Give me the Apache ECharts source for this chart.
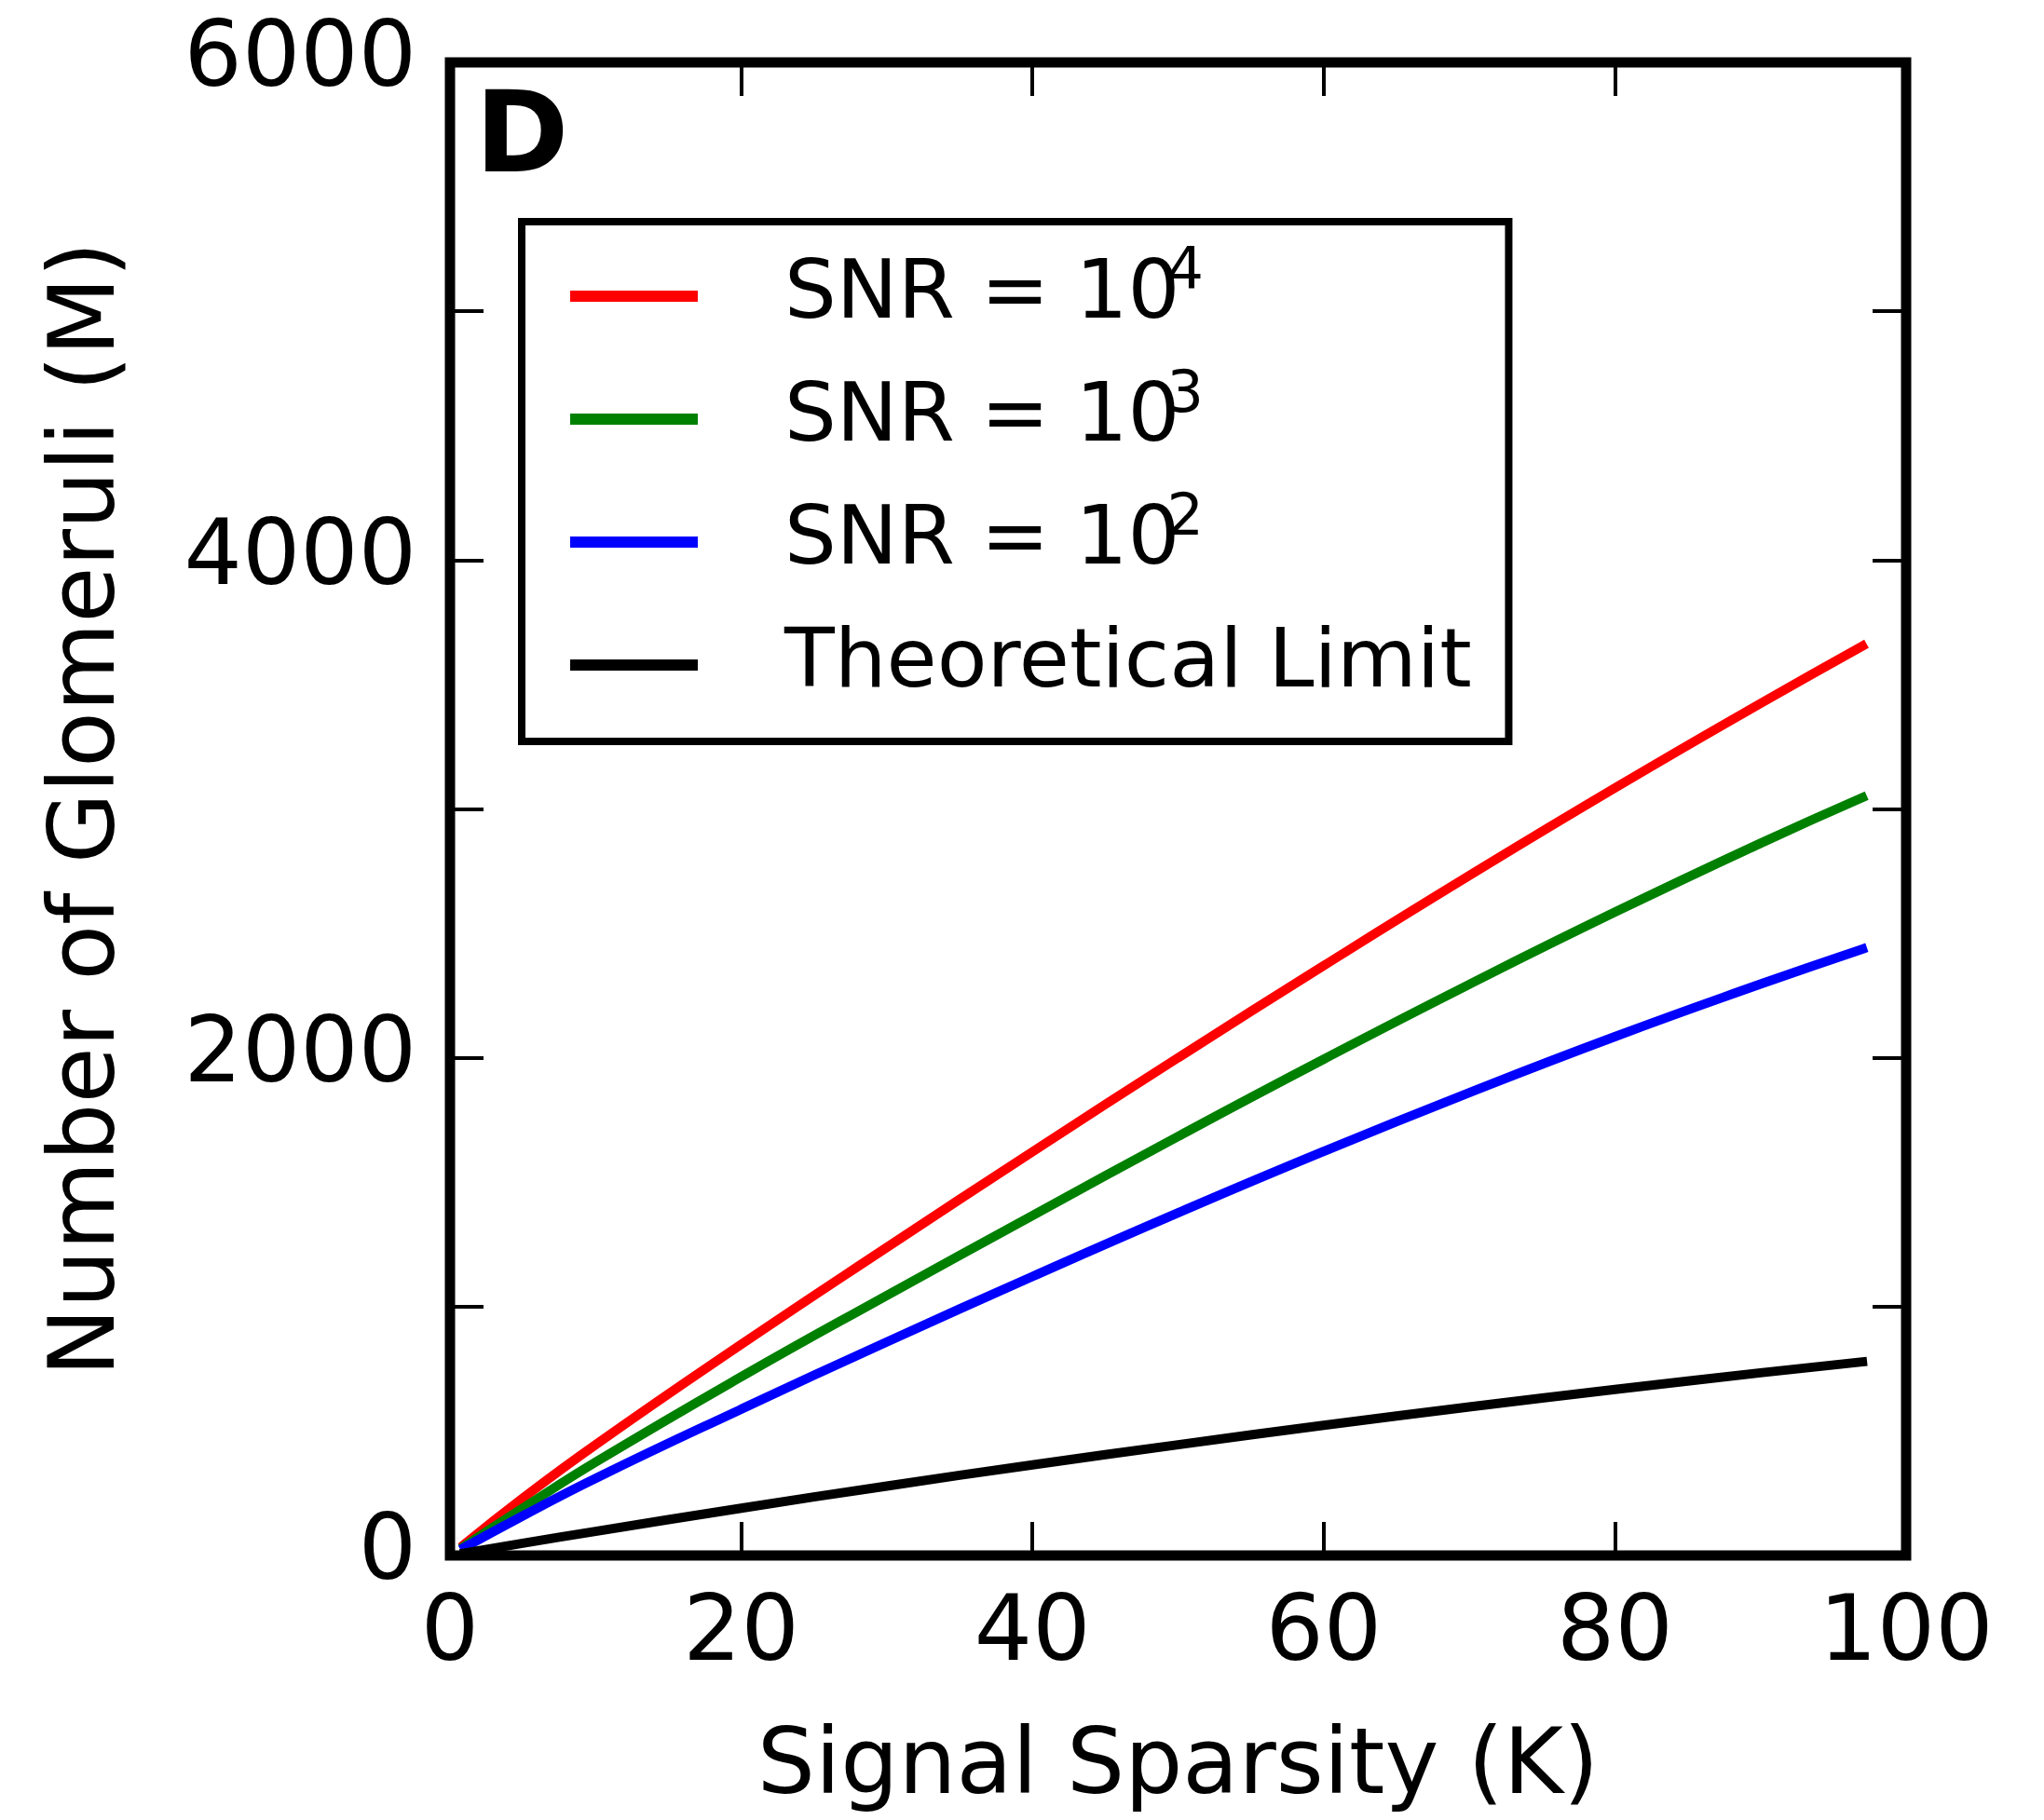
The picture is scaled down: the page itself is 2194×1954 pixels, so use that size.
<!DOCTYPE html>
<html>
<head>
<meta charset="utf-8">
<script src="https://cdn.jsdelivr.net/npm/echarts@6/dist/echarts.min.js"></script>
<style>
  html, body { margin: 0; padding: 0; background: #fff; }
  #chart { width: 2194px; height: 1954px; }
</style>
</head>
<body>
<div id="chart"></div>
<script>
// signal sparsity K
const kValues = [1, 5, 10, 20, 30, 40, 50, 60, 70, 80, 90, 97]
// number of glomeruli M
const snr4 = [45, 230, 445, 848, 1238, 1622, 2000, 2370, 2732, 3084, 3424, 3655]
const snr3 = [38, 190, 375, 718, 1045, 1366, 1684, 1994, 2295, 2585, 2862, 3046]
const snr2 = [32, 159, 310, 588, 858, 1121, 1377, 1624, 1860, 2085, 2296, 2437]
const theoretical = [10, 49, 97, 190, 279, 364, 445, 523, 597, 667, 734, 778]

const seriesNames = ['snr4', 'snr3', 'snr2', 'limit']
// superscript exponents go in their own rich-text fragment
const legendText = {
  snr4: '{t|SNR = 10}{s|4}',
  snr3: '{t|SNR = 10}{s|3}',
  snr2: '{t|SNR = 10}{s|2}',
  limit: '{t|Theoretical Limit}{s| }'
}

const FONT = 'DejaVu Sans'
const chart = echarts.init(document.getElementById('chart'))

const pairs = (ys) => kValues.map((k, i) => [k, ys[i]])

const lineSeries = (name, data, color) => ({
  name: name,
  type: 'line',
  xAxisIndex: 0,
  yAxisIndex: 0,
  data: pairs(data),
  smooth: true,
  showSymbol: false,
  symbol: 'none',
  lineStyle: { color: color, width: 10, cap: 'square' },
  itemStyle: { color: color },
  animation: false
})

const tick = () => ({ show: true, inside: true, length: 36, lineStyle: { color: '#000', width: 4 } })
const noLine = () => ({ show: false, onZero: false })

const options = {
  backgroundColor: '#fff',
  animation: false,
  grid: {
    left: 483,
    right: 148,
    top: 67,
    bottom: 282,
    show: true,
    borderColor: '#000',
    borderWidth: 11,
    backgroundColor: 'transparent',
    containLabel: false
  },
  legend: {
    orient: 'vertical',
    left: 560,
    top: 238,
    data: seriesNames,
    icon: 'rect',
    itemWidth: 137,
    itemHeight: 12,
    itemGap: 33,
    padding: [25, 34, 38, 52],
    borderColor: '#000',
    borderWidth: 8,
    backgroundColor: '#fff',
    formatter: (name) => legendText[name],
    textStyle: {
      padding: [0, 0, 0, 88],
      rich: {
        t: { fontFamily: FONT, fontSize: 88, color: '#000', lineHeight: 110, verticalAlign: 'middle' },
        s: { fontFamily: FONT, fontSize: 62, color: '#000', lineHeight: 110, verticalAlign: 'top', padding: [0, 0, 0, -14] }
      }
    }
  },
  graphic: [
    {
      type: 'text',
      left: 510,
      top: 92,
      style: {
        text: 'D',
        font: 'bold 121px "DejaVu Sans"',
        fill: '#000'
      }
    }
  ],
  xAxis: [
    {
      type: 'value',
      position: 'bottom',
      min: 0,
      max: 100,
      interval: 20,
      name: 'Signal Sparsity (K)',
      nameLocation: 'middle',
      nameGap: 181,
      nameTextStyle: { fontFamily: FONT, fontSize: 98, color: '#000' },
      axisLine: noLine(),
      axisTick: tick(),
      splitLine: { show: false },
      axisLabel: { fontFamily: FONT, fontSize: 98, color: '#000', margin: 38 }
    },
    {
      type: 'value',
      position: 'top',
      min: 0,
      max: 100,
      interval: 20,
      axisLine: noLine(),
      axisTick: tick(),
      splitLine: { show: false },
      axisLabel: { show: false }
    }
  ],
  yAxis: [
    {
      type: 'value',
      position: 'left',
      min: 0,
      max: 6000,
      interval: 1000,
      name: 'Number of Glomeruli (M)',
      nameLocation: 'middle',
      nameGap: 337,
      nameTextStyle: { fontFamily: FONT, fontSize: 98, color: '#000' },
      axisLine: noLine(),
      axisTick: tick(),
      splitLine: { show: false },
      axisLabel: {
        fontFamily: FONT,
        fontSize: 98,
        color: '#000',
        margin: 36,
        formatter: (v) => (v % 2000 === 0 ? String(v) : '')
      }
    },
    {
      type: 'value',
      position: 'right',
      min: 0,
      max: 6000,
      interval: 1000,
      axisLine: noLine(),
      axisTick: tick(),
      splitLine: { show: false },
      axisLabel: { show: false }
    }
  ],
  series: [
    lineSeries('snr4', snr4, '#ff0000'),
    lineSeries('snr3', snr3, '#008000'),
    lineSeries('snr2', snr2, '#0000ff'),
    lineSeries('limit', theoretical, '#000000')
  ]
}

chart.setOption(options, true)
</script>
</body>
</html>
